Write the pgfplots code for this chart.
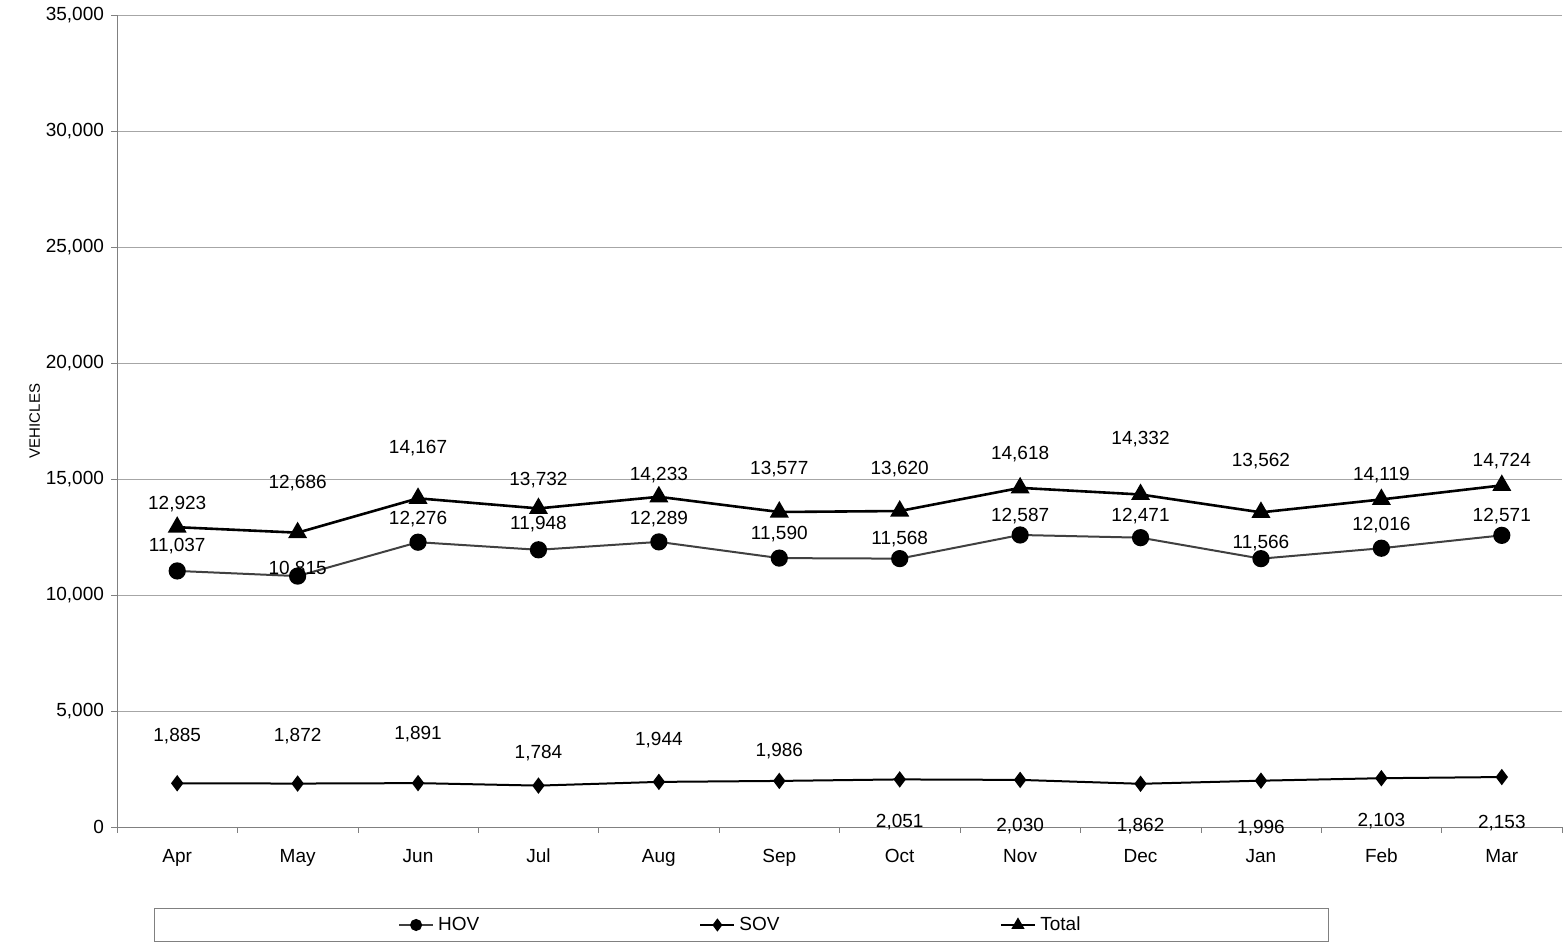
\documentclass[border=0pt]{standalone}
\usepackage{pgfplots}
\pgfplotsset{compat=1.18}
\usepackage{fontspec}
\setmainfont{Liberation Sans}
\begin{document}
\begin{tikzpicture}
\path[use as bounding box] (-58.5pt,-60pt) rectangle (723.5pt,413.5pt);
\begin{axis}[
  scale only axis, width=722.5pt, height=406pt, clip=false,
  xmin=-0.5, xmax=11.5, ymin=0, ymax=35000,
  xtick={0,...,11}, xticklabels={Apr,May,Jun,Jul,Aug,Sep,Oct,Nov,Dec,Jan,Feb,Mar},
  xticklabel style={yshift=-3pt, text height=1.6ex, text depth=0.3ex},
  minor xtick={-0.5,0.5,...,11.5},
  major x tick style={draw=none},
  minor x tick style={gray}, minor tick length=3pt,
  ytick={0,5000,...,35000},
  ymajorgrids, grid style={gray!70},
  tick align=outside, major tick length=3pt, tick style={gray},
  axis x line*=bottom, axis y line*=left,
  axis line style={gray},
  scaled y ticks=false,
  yticklabel style={/pgf/number format/.cd,fixed,1000 sep={,},assume math mode=true},
  ticklabel style={font=\fontsize{9.5}{11}\selectfont},
  ylabel={VEHICLES}, ylabel style={font=\fontsize{7.5}{9}\selectfont, yshift=-4pt},
  legend columns=3,
  legend image post style={mark size=2.5pt},
  legend style={at={(0.432,-0.100)}, anchor=north, draw=gray, inner xsep=122pt, inner ysep=2pt,
    font=\fontsize{9.5}{11}\selectfont, /tikz/every even column/.append style={column sep=108pt}},
  every node near coord/.append style={font=\fontsize{9.5}{11}\selectfont, anchor=center},
]
\addplot[color=black!75, line width=1pt, mark=*, mark size=3.8pt, mark options={black,fill=black}]
 coordinates {(0,11037)(1,10815)(2,12276)(3,11948)(4,12289)(5,11590)(6,11568)(7,12587)(8,12471)(9,11566)(10,12016)(11,12571)};
\addlegendentry{HOV}
\addplot[color=black, line width=1pt, mark=diamond*, mark size=3.3pt]
 coordinates {(0,1885)(1,1872)(2,1891)(3,1784)(4,1944)(5,1986)(6,2051)(7,2030)(8,1862)(9,1996)(10,2103)(11,2153)};
\addlegendentry{SOV}
\addplot[color=black, line width=1.3pt, mark=triangle*, mark size=4.2pt]
 coordinates {(0,12923)(1,12686)(2,14167)(3,13732)(4,14233)(5,13577)(6,13620)(7,14618)(8,14332)(9,13562)(10,14119)(11,14724)};
\addlegendentry{Total}
% data labels
\addplot[draw=none, forget plot, nodes near coords, point meta=explicit,
  every node near coord/.append style={/pgf/number format/.cd,fixed,1000 sep={,},precision=0,assume math mode=true}]
 table[meta=v] {
x y v
0 13921 12923
1 14826 12686
2 16335 14167
3 14956 13732
4 15171 14233
5 15430 13577
6 15430 13620
7 16076 14618
8 16723 14332
9 15775 13562
10 15171 14119
11 15775 14724
0 12111 11037
1 11120 10815
2 13275 12276
3 13059 11948
4 13275 12289
5 12628 11590
6 12413 11568
7 13404 12587
8 13404 12471
9 12240 11566
10 13016 12016
11 13404 12571
0 3922 1885
1 3922 1872
2 4008 1891
3 3189 1784
4 3750 1944
5 3276 1986
6 216 2051
7 43 2030
8 43 1862
9 -43 1996
10 259 2103
11 172 2153
};
\end{axis}
\end{tikzpicture}
\end{document}
